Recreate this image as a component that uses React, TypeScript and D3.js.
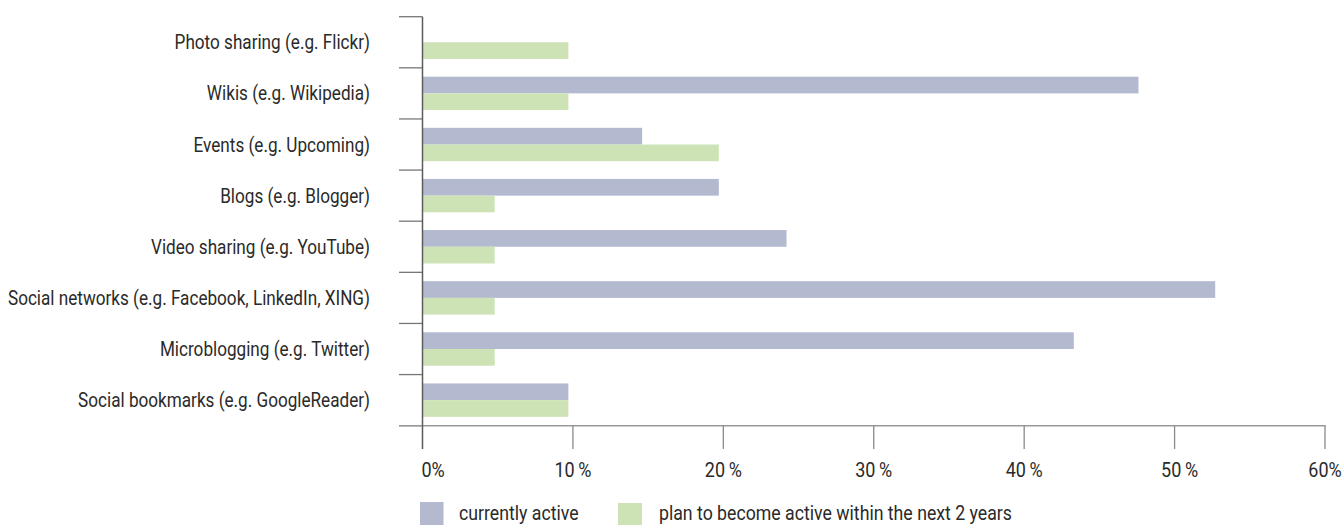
import React from "react";
import * as d3 from "d3";

const categories = [
  "Photo sharing (e.g. Flickr)",
  "Wikis (e.g. Wikipedia)",
  "Events (e.g. Upcoming)",
  "Blogs (e.g. Blogger)",
  "Video sharing (e.g. YouTube)",
  "Social networks (e.g. Facebook, LinkedIn, XING)",
  "Microblogging (e.g. Twitter)",
  "Social bookmarks (e.g. GoogleReader)",
];
const currentlyActive = [0, 47.6, 14.6, 19.7, 24.2, 52.7, 43.3, 9.7];
const planActive = [9.7, 9.7, 19.7, 4.8, 4.8, 4.8, 4.8, 9.7];
const xTicks = [0, 10, 20, 30, 40, 50, 60];
const tickLabels = ["0%", "10\u2009%", "20\u2009%", "30\u2009%", "40\u2009%", "50\u2009%", "60%"];
const seriesNames = ["currently active", "plan to become active within the next 2 years"];

const COLORS = ["#b3b9cf", "#cde3b5"];
const FONT = "Roboto, 'Liberation Sans', sans-serif";
const TEXT = "#2a2a2a";

function CText(props: {
  x: number;
  y: number;
  sx: number;
  size: number;
  anchor?: "start" | "middle" | "end";
  children: React.ReactNode;
}) {
  return (
    <text
      transform={`translate(${props.x},${props.y}) scale(${props.sx},1)`}
      textAnchor={props.anchor || "start"}
      fontSize={props.size}
      fill={TEXT}
    >
      {props.children}
    </text>
  );
}

export default function App() {
  const W = 1343;
  const H = 525;
  const x = d3.scaleLinear().domain([0, 60]).range([422.5, 1325]);
  const y = d3.scaleBand<string>().domain(categories).range([16.7, 425.7]).padding(0);
  const bw = y.bandwidth();
  const barH = 16.7;
  const off = (bw - 2 * barH) / 2;
  const top = 16.7;
  const bottom = 425.7;

  return (
    <div style={{ position: "absolute", left: 0, top: 0 }}>
      <svg width={W} height={H} style={{ display: "block", fontFamily: FONT }}>
        <rect width={W} height={H} fill="#fff" />
        {categories.map((c, i) => (
          <g key={c}>
            <rect
              x={x(0)}
              y={(y(c) as number) + off}
              width={x(currentlyActive[i]) - x(0)}
              height={barH}
              fill={COLORS[0]}
            />
            <rect
              x={x(0)}
              y={(y(c) as number) + off + barH}
              width={x(planActive[i]) - x(0)}
              height={barH}
              fill={COLORS[1]}
            />
          </g>
        ))}
        {[...categories.map((c) => y(c) as number), bottom].map((yy, i) => (
          <line key={i} x1={399} x2={x(0)} y1={yy} y2={yy} stroke={i === categories.length ? "#999" : "#777"} strokeWidth={1.3} />
        ))}
        <line x1={399} x2={x(60) + 0.7} y1={bottom} y2={bottom} stroke="#999" strokeWidth={1.5} />
        {xTicks.map((t, i) =>
          i === 0 ? null : (
            <line key={t} x1={x(t)} x2={x(t)} y1={bottom} y2={449} stroke="#8a8a8a" strokeWidth={1.3} />
          )
        )}
        <line x1={x(0)} x2={x(0)} y1={top} y2={449} stroke="#5c5c5c" strokeWidth={1.5} />
        {xTicks.map((t, i) => (
          <CText
            key={t}
            x={i === 0 ? x(t) - 1 : x(t) + (i === 5 ? 5 : 0)}
            y={477}
            sx={0.9}
            size={20}
            anchor={i === 0 ? "start" : "middle"}
          >
            {tickLabels[i]}
          </CText>
        ))}
        {categories.map((c) => (
          <CText key={c} x={370} y={(y(c) as number) + bw / 2 + 7} sx={0.857} size={20} anchor="end">
            {c}
          </CText>
        ))}
        <rect x={420} y={502} width={23.5} height={23} fill={COLORS[0]} />
        <CText x={459} y={520} sx={0.885} size={20}>{seriesNames[0]}</CText>
        <rect x={618} y={503} width={24} height={22} fill={COLORS[1]} />
        <CText x={659} y={520} sx={0.885} size={20}>{seriesNames[1]}</CText>
      </svg>
    </div>
  );
}
